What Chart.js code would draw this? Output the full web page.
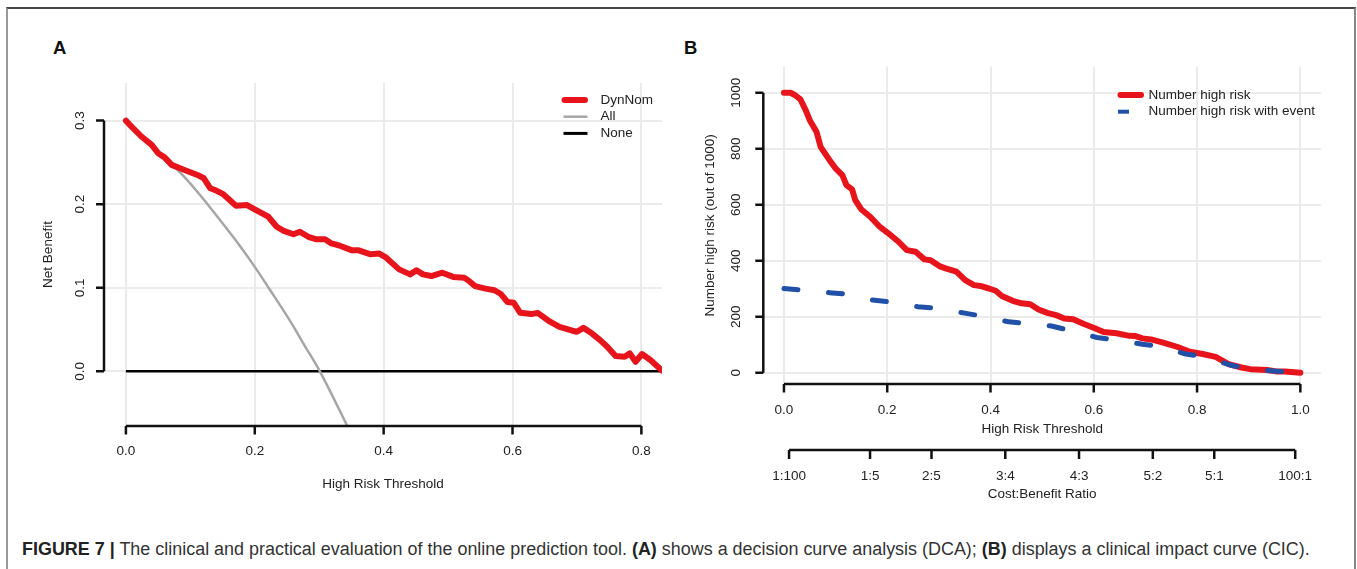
<!DOCTYPE html>
<html>
<head>
<meta charset="utf-8">
<script src="https://cdn.jsdelivr.net/npm/chart.js@4.4.0/dist/chart.umd.min.js"></script>
<style>
  body { margin: 0; background: #fff; width: 1357px; height: 569px; position: relative; overflow: hidden;
         font-family: 'Liberation Sans', Arial, sans-serif; }
  #frame { position: absolute; left: 6px; top: 7px; width: 1346px; height: 600px;
           border-top: 2px solid #444; border-left: 2px solid #999; border-right: 2px solid #888; }
  canvas { position: absolute; top: 0; }
  #chartA { left: 0; }
  #chartB { left: 680px; }
  .tag { position: absolute; font-weight: bold; font-size: 18.5px; color: #111; line-height: 1; }
  #caption { position: absolute; left: 22px; top: 550px; transform: translateY(-50%); line-height: 1;
             font-size: 15px; color: #333; white-space: nowrap; }
  #caption b { color: #222; }
</style>
</head>
<body>
<div id="frame"></div>
<div class="tag" style="left:53px;top:39px">A</div>
<div class="tag" style="left:684px;top:39px">B</div>
<canvas id="chartA" width="680" height="520"></canvas>
<canvas id="chartB" width="677" height="520"></canvas>
<div id="caption"><b>FIGURE 7 |</b> The clinical and practical evaluation of the online prediction tool. <b>(A)</b> shows a decision curve analysis (DCA); <b>(B)</b> displays a clinical impact curve (CIC).</div>

<script>
// panel A: decision curve
const dcaThreshold = [0.000, 0.006, 0.024, 0.040, 0.050, 0.060, 0.071, 0.084, 0.094, 0.111, 0.121, 0.131, 0.141,
  0.151, 0.161, 0.171, 0.188, 0.202, 0.221, 0.234, 0.245, 0.260, 0.270, 0.283, 0.296, 0.309, 0.319, 0.333, 0.350,
  0.360, 0.380, 0.393, 0.404, 0.424, 0.441, 0.451, 0.461, 0.474, 0.491, 0.508, 0.525, 0.531, 0.542, 0.558, 0.572,
  0.582, 0.592, 0.602, 0.612, 0.629, 0.639, 0.656, 0.673, 0.693, 0.700, 0.710, 0.723, 0.736, 0.747, 0.760, 0.774,
  0.782, 0.791, 0.801, 0.814, 0.832];
const dcaDynNom = [0.300, 0.295, 0.281, 0.271, 0.261, 0.256, 0.247, 0.243, 0.240, 0.235, 0.231, 0.219, 0.216,
  0.212, 0.205, 0.198, 0.199, 0.193, 0.185, 0.173, 0.168, 0.164, 0.167, 0.161, 0.158, 0.158, 0.153, 0.150, 0.145,
  0.145, 0.140, 0.141, 0.136, 0.122, 0.116, 0.121, 0.116, 0.114, 0.118, 0.113, 0.112, 0.109, 0.102, 0.099, 0.097,
  0.0925, 0.083, 0.082, 0.070, 0.0685, 0.070, 0.0605, 0.0533, 0.0486, 0.0474, 0.052, 0.0455, 0.0374, 0.0294, 0.0183, 0.0175,
  0.0215, 0.0115, 0.0207, 0.0135, 0.001];
const allThreshold = [0.000, 0.040, 0.084, 0.115, 0.146, 0.177, 0.200, 0.224, 0.255, 0.278, 0.301, 0.344];
const allNetBenefit = [0.300, 0.269, 0.238, 0.211, 0.181, 0.150, 0.125, 0.097, 0.060, 0.030, 0.000, -0.066];
const noneThreshold = [0.000, 0.85];
const noneNetBenefit = [0, 0];
const xTicksA = [0, 0.2, 0.4, 0.6, 0.8];
const yTicksA = [0, 0.1, 0.2, 0.3];

// panel B: clinical impact curve
const cicThreshold = [0, 0.0126, 0.021, 0.032, 0.042, 0.050, 0.063, 0.071, 0.088, 0.100, 0.113, 0.121, 0.132,
  0.138, 0.150, 0.167, 0.184, 0.201, 0.222, 0.238, 0.255, 0.272, 0.284, 0.301, 0.313, 0.334, 0.351, 0.368, 0.380,
  0.397, 0.410, 0.422, 0.443, 0.460, 0.477, 0.493, 0.510, 0.527, 0.543, 0.560, 0.581, 0.602, 0.619, 0.644, 0.669,
  0.681, 0.694, 0.711, 0.736, 0.761, 0.786, 0.811, 0.836, 0.861, 0.886, 0.903, 0.936, 0.953, 0.970, 1.0];
const cicHighRisk = [1000, 1000, 992, 976, 938, 902, 861, 807, 760, 730, 706, 670, 655,
  617, 583, 557, 524, 500, 468, 438, 432, 405, 402, 381, 373, 361, 331, 313, 310,
  301, 293, 274, 257, 248, 245, 226, 214, 206, 194, 191, 174, 159, 146, 141, 132,
  131, 123, 119, 107, 93, 75, 67, 57, 31, 19, 13, 10, 5, 5, 0];
const cicEventThreshold = [0, 0.0375, 0.088, 0.121, 0.171, 0.209, 0.259, 0.297, 0.347, 0.385, 0.435, 0.468,
  0.518, 0.556, 0.606, 0.644, 0.694, 0.727, 0.778, 0.815, 0.865, 0.903, 0.961, 1.0];
const cicWithEvent = [301, 295, 286, 281, 260, 252, 236, 230, 214, 202, 182, 176,
  167, 150, 126, 117, 102, 95, 67, 57, 27, 13, 5, 0];
const xTicksB = [0, 0.2, 0.4, 0.6, 0.8, 1.0];
const yTicksB = [0, 200, 400, 600, 800, 1000];
const costBenefitLabels = ['1:100', '1:5', '2:5', '3:4', '4:3', '5:2', '5:1', '100:1'];
const costBenefitThresholds = [0.0099, 0.1667, 0.2857, 0.4286, 0.5714, 0.7143, 0.8333, 0.9901];

const RED = '#e8141b';
const BLUE = '#2150a8';
const FONT = '"Liberation Sans", Arial, sans-serif';

const pts = (xs, ys) => xs.map((x, i) => ({ x: x, y: ys[i] }));

// R style axes: line only over the tick range, ticks outward, rotated y labels
const rAxes = {
  id: 'rAxes',
  afterDraw(chart, args, o) {
    const ctx = chart.ctx, a = chart.chartArea, xs = chart.scales.x, ys = chart.scales.y;
    ctx.save();
    ctx.strokeStyle = '#111';
    ctx.fillStyle = '#222';
    ctx.lineWidth = 2.5;
    ctx.font = '13.5px ' + FONT;
    ctx.textAlign = 'center';
    ctx.textBaseline = 'middle';

    // y axis
    ctx.beginPath();
    ctx.moveTo(a.left, ys.getPixelForValue(o.yTicks[0]));
    ctx.lineTo(a.left, ys.getPixelForValue(o.yTicks[o.yTicks.length - 1]));
    o.yTicks.forEach(v => {
      const p = ys.getPixelForValue(v);
      ctx.moveTo(a.left, p);
      ctx.lineTo(a.left - 8, p);
    });
    ctx.stroke();
    o.yTicks.forEach(v => {
      ctx.save();
      ctx.translate(a.left - o.yLabelGap, ys.getPixelForValue(v));
      ctx.rotate(-Math.PI / 2);
      ctx.fillText(o.yFormat(v), 0, 0);
      ctx.restore();
    });

    // x axis
    ctx.beginPath();
    ctx.moveTo(xs.getPixelForValue(o.xTicks[0]), a.bottom);
    ctx.lineTo(xs.getPixelForValue(o.xTicks[o.xTicks.length - 1]), a.bottom);
    o.xTicks.forEach(v => {
      const p = xs.getPixelForValue(v);
      ctx.moveTo(p, a.bottom);
      ctx.lineTo(p, a.bottom + 8.5);
    });
    ctx.stroke();
    o.xTicks.forEach(v => ctx.fillText(o.xFormat(v), xs.getPixelForValue(v), a.bottom + o.xLabelGap));

    // extra axis below (cost:benefit)
    if (o.extra) {
      const e = o.extra, yl = a.bottom + e.gap;
      ctx.beginPath();
      ctx.moveTo(xs.getPixelForValue(e.values[0]), yl);
      ctx.lineTo(xs.getPixelForValue(e.values[e.values.length - 1]), yl);
      e.values.forEach(v => {
        const p = xs.getPixelForValue(v);
        ctx.moveTo(p, yl);
        ctx.lineTo(p, yl + 9);
      });
      ctx.stroke();
      e.values.forEach((v, i) => ctx.fillText(e.labels[i], xs.getPixelForValue(v), yl + e.labelGap));
    }

    // titles
    ctx.fillText(o.xTitle, (a.left + a.right) / 2, a.bottom + o.xTitleGap);
    if (o.extra) ctx.fillText(o.extra.title, (a.left + a.right) / 2, a.bottom + o.extra.titleGap);
    ctx.save();
    ctx.translate(a.left - o.yTitleGap, (a.top + a.bottom) / 2);
    ctx.rotate(-Math.PI / 2);
    ctx.fillText(o.yTitle, 0, 0);
    ctx.restore();

    // legend
    ctx.textAlign = 'left';
    o.legend.forEach((item, i) => {
      const y = o.legendY + i * o.legendRow;
      ctx.beginPath();
      ctx.strokeStyle = item.color;
      ctx.lineWidth = item.width;
      ctx.lineCap = item.cap || 'butt';
      ctx.moveTo(item.x0, y);
      ctx.lineTo(item.x1, y);
      ctx.stroke();
      ctx.fillStyle = '#222';
      ctx.fillText(item.label, o.legendTextX, y);
    });
    ctx.restore();
  }
};

function scaleOpts(min, max, ticks, horizontal) {
  return {
    type: 'linear',
    min: min,
    max: max,
    afterBuildTicks: s => { s.ticks = ticks.map(v => ({ value: v })); },
    afterFit: s => { if (horizontal) s.height = 0; else s.width = 0; },
    ticks: { display: false },
    grid: { color: '#ebebeb', lineWidth: 2, drawTicks: false },
    border: { display: false }
  };
}

const lineDefaults = { pointRadius: 0, fill: false, tension: 0, clip: 0, borderJoinStyle: 'round' };

new Chart(document.getElementById('chartA'), {
  type: 'line',
  data: {
    datasets: [
      Object.assign({ label: 'DynNom', data: pts(dcaThreshold, dcaDynNom), borderColor: RED, borderWidth: 6, borderCapStyle: 'round' }, lineDefaults),
      Object.assign({ label: 'All', data: pts(allThreshold, allNetBenefit), borderColor: '#a6a6a6', borderWidth: 2.5 }, lineDefaults, { cubicInterpolationMode: 'monotone' }),
      Object.assign({ label: 'None', data: pts(noneThreshold, noneNetBenefit), borderColor: '#000', borderWidth: 2.5 }, lineDefaults)
    ]
  },
  options: {
    responsive: false,
    animation: false,
    events: [],
    layout: { padding: { left: 104, right: 18, top: 83, bottom: 94 } },
    scales: {
      x: scaleOpts(-0.034, 0.832, xTicksA, true),
      y: scaleOpts(-0.0654, 0.345, yTicksA, false)
    },
    plugins: {
      legend: { display: false },
      tooltip: { enabled: false },
      rAxes: {
        xTicks: xTicksA, yTicks: yTicksA,
        xFormat: v => v.toFixed(1), yFormat: v => v.toFixed(1),
        xLabelGap: 25, xTitleGap: 58, yLabelGap: 24, yTitleGap: 56,
        xTitle: 'High Risk Threshold', yTitle: 'Net Benefit',
        legendY: 100, legendRow: 16.7, legendTextX: 600.5,
        legend: [
          { label: 'DynNom', color: RED, width: 6, cap: 'round', x0: 564.5, x1: 585 },
          { label: 'All', color: '#a6a6a6', width: 2.5, x0: 563.5, x1: 587.5 },
          { label: 'None', color: '#000', width: 3, x0: 563.5, x1: 587.5 }
        ]
      }
    }
  },
  plugins: [rAxes]
});

new Chart(document.getElementById('chartB'), {
  type: 'line',
  data: {
    datasets: [
      Object.assign({ label: 'Number high risk with event', data: pts(cicEventThreshold, cicWithEvent), borderColor: BLUE, borderWidth: 5, borderCapStyle: 'round', borderDash: [14, 30.7] }, lineDefaults),
      Object.assign({ label: 'Number high risk', data: pts(cicThreshold, cicHighRisk), borderColor: RED, borderWidth: 6, borderCapStyle: 'round' }, lineDefaults)
    ]
  },
  options: {
    responsive: false,
    animation: false,
    events: [],
    layout: { padding: { left: 83.3, right: 36, top: 66.7, bottom: 136 } },
    scales: {
      x: scaleOpts(-0.04, 1.04, xTicksB, true),
      y: scaleOpts(-40, 1093, yTicksB, false)
    },
    plugins: {
      legend: { display: false },
      tooltip: { enabled: false },
      rAxes: {
        xTicks: xTicksB, yTicks: yTicksB,
        xFormat: v => v.toFixed(1), yFormat: v => String(v),
        xLabelGap: 26, xTitleGap: 45.5, yLabelGap: 26.6, yTitleGap: 52.6,
        xTitle: 'High Risk Threshold', yTitle: 'Number high risk (out of 1000)',
        extra: { values: costBenefitThresholds, labels: costBenefitLabels, gap: 66, labelGap: 26, title: 'Cost:Benefit Ratio', titleGap: 110 },
        legendY: 95, legendRow: 16.7, legendTextX: 468.5,
        legend: [
          { label: 'Number high risk', color: RED, width: 6, cap: 'round', x0: 440.5, x1: 461 },
          { label: 'Number high risk with event', color: BLUE, width: 4, x0: 438, x1: 449 }
        ]
      }
    }
  },
  plugins: [rAxes]
});

// fit caption to the width it has in the figure
const cap = document.getElementById('caption');
const capW = cap.getBoundingClientRect().width;
cap.style.fontSize = (15 * 1288 / capW).toFixed(2) + 'px';
</script>
</body>
</html>
